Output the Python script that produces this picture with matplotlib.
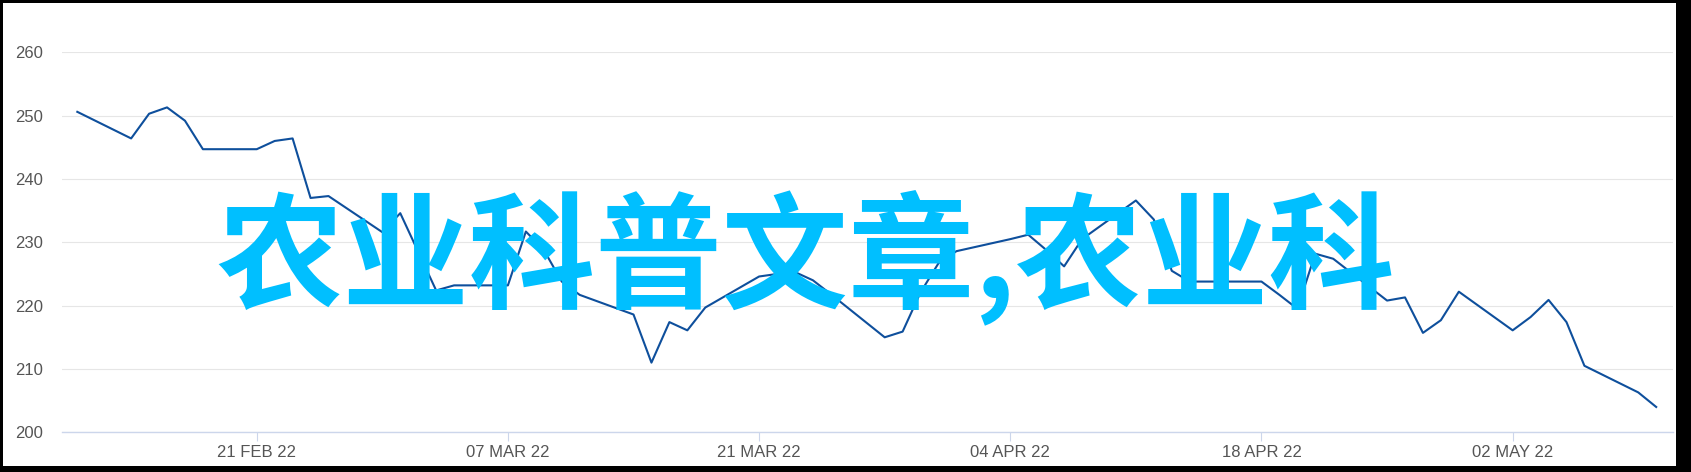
import numpy as np
import pandas as pd
import matplotlib
matplotlib.use("Agg")
import matplotlib.pyplot as plt
import matplotlib.dates as mdates
from matplotlib.patches import Rectangle
from matplotlib import font_manager

# daily closing values
dates = ["2022-02-11", "2022-02-14", "2022-02-15", "2022-02-16", "2022-02-17", "2022-02-18",
         "2022-02-21", "2022-02-22", "2022-02-23", "2022-02-24", "2022-02-25",
         "2022-02-28", "2022-03-01", "2022-03-02", "2022-03-03", "2022-03-04",
         "2022-03-07", "2022-03-08", "2022-03-09", "2022-03-10", "2022-03-11",
         "2022-03-14", "2022-03-15", "2022-03-16", "2022-03-17", "2022-03-18",
         "2022-03-21", "2022-03-22", "2022-03-23", "2022-03-24", "2022-03-25",
         "2022-03-28", "2022-03-29", "2022-03-30", "2022-03-31", "2022-04-01",
         "2022-04-04", "2022-04-05", "2022-04-06", "2022-04-07", "2022-04-08",
         "2022-04-11", "2022-04-12", "2022-04-13", "2022-04-14",
         "2022-04-18", "2022-04-19", "2022-04-20", "2022-04-21", "2022-04-22",
         "2022-04-25", "2022-04-26", "2022-04-27", "2022-04-28", "2022-04-29",
         "2022-05-02", "2022-05-03", "2022-05-04", "2022-05-05", "2022-05-06",
         "2022-05-09", "2022-05-10"]
values = [250.6, 246.4, 250.3, 251.3, 249.2, 244.7,
          244.7, 246.0, 246.4, 237.0, 237.3,
          231.6, 234.6, 228.5, 222.4, 223.2,
          223.2, 231.7, 228.8, 223.8, 221.7,
          218.6, 211.0, 217.4, 216.1, 219.7,
          224.6, 225.0, 225.3, 224.0, 221.8,
          215.0, 215.9, 222.1, 226.7, 228.6,
          230.5, 231.2, 228.8, 226.2, 230.5,
          236.6, 233.6, 225.5, 223.8,
          223.8, 221.7, 219.5, 228.2, 227.4,
          220.8, 221.3, 215.7, 217.7, 222.2,
          216.1, 218.2, 220.9, 217.4, 210.5,
          206.3, 204.0]
tick_dates = ["2022-02-21", "2022-03-07", "2022-03-21", "2022-04-04", "2022-04-18", "2022-05-02"]
y_ticks = [200, 210, 220, 230, 240, 250, 260]
overlay = "农业科普文章,农业科"

installed = {f.name for f in font_manager.fontManager.ttflist}
narrow = "Liberation Sans Narrow" if "Liberation Sans Narrow" in installed else "Liberation Sans"

W, H = 1691, 472
fig = plt.figure(figsize=(W / 100, H / 100), dpi=100, facecolor="black")
fig.patches.append(Rectangle((3 / W, 6 / H), (W - 18) / W, (H - 9) / H,
                             transform=fig.transFigure, facecolor="white",
                             edgecolor="none", zorder=-5))

ax = fig.add_axes([61.7 / W, (H - 432.3) / H, 1611 / W, 380 / H])
ax.set_facecolor("none")

x = pd.to_datetime(dates)
ax.plot(x, values, color="#0e4f9c", lw=1.5, zorder=3)

ax.set_ylim(200, 260)
ax.set_yticks(y_ticks)
x0 = mdates.date2num(pd.Timestamp("2022-02-21")) - 10.87
x1 = mdates.date2num(pd.Timestamp("2022-05-02")) + 8.92
ax.set_xlim(x0, x1)
ax.set_xticks(pd.to_datetime(tick_dates))
ax.set_xticklabels([pd.Timestamp(d).strftime("%d %b %y").upper() for d in tick_dates],
                   fontfamily=narrow, fontsize=12, color="#555555")

ax.grid(axis="y", color="#e6e6e6", lw=0.8)
ax.set_axisbelow(True)
for s in ["top", "right", "left"]:
    ax.spines[s].set_visible(False)
ax.spines["bottom"].set_color("#ccd6eb")
ax.spines["bottom"].set_linewidth(1.0)
ax.tick_params(axis="x", length=6.5, width=0.8, color="#ccd6eb", pad=2.5)
ax.tick_params(axis="y", length=0, pad=13.5, labelsize=12, labelcolor="#555555")
for lbl in ax.get_yticklabels():
    lbl.set_fontfamily("Liberation Sans")

fig.text(806 / W, 1 - 258 / H, overlay, ha="center", va="center",
         fontsize=91, fontweight="bold", color="#00bfff",
         family=["Noto Sans CJK SC", "DejaVu Sans"], zorder=10)

fig.savefig("out.png", dpi=100, facecolor=fig.get_facecolor())
